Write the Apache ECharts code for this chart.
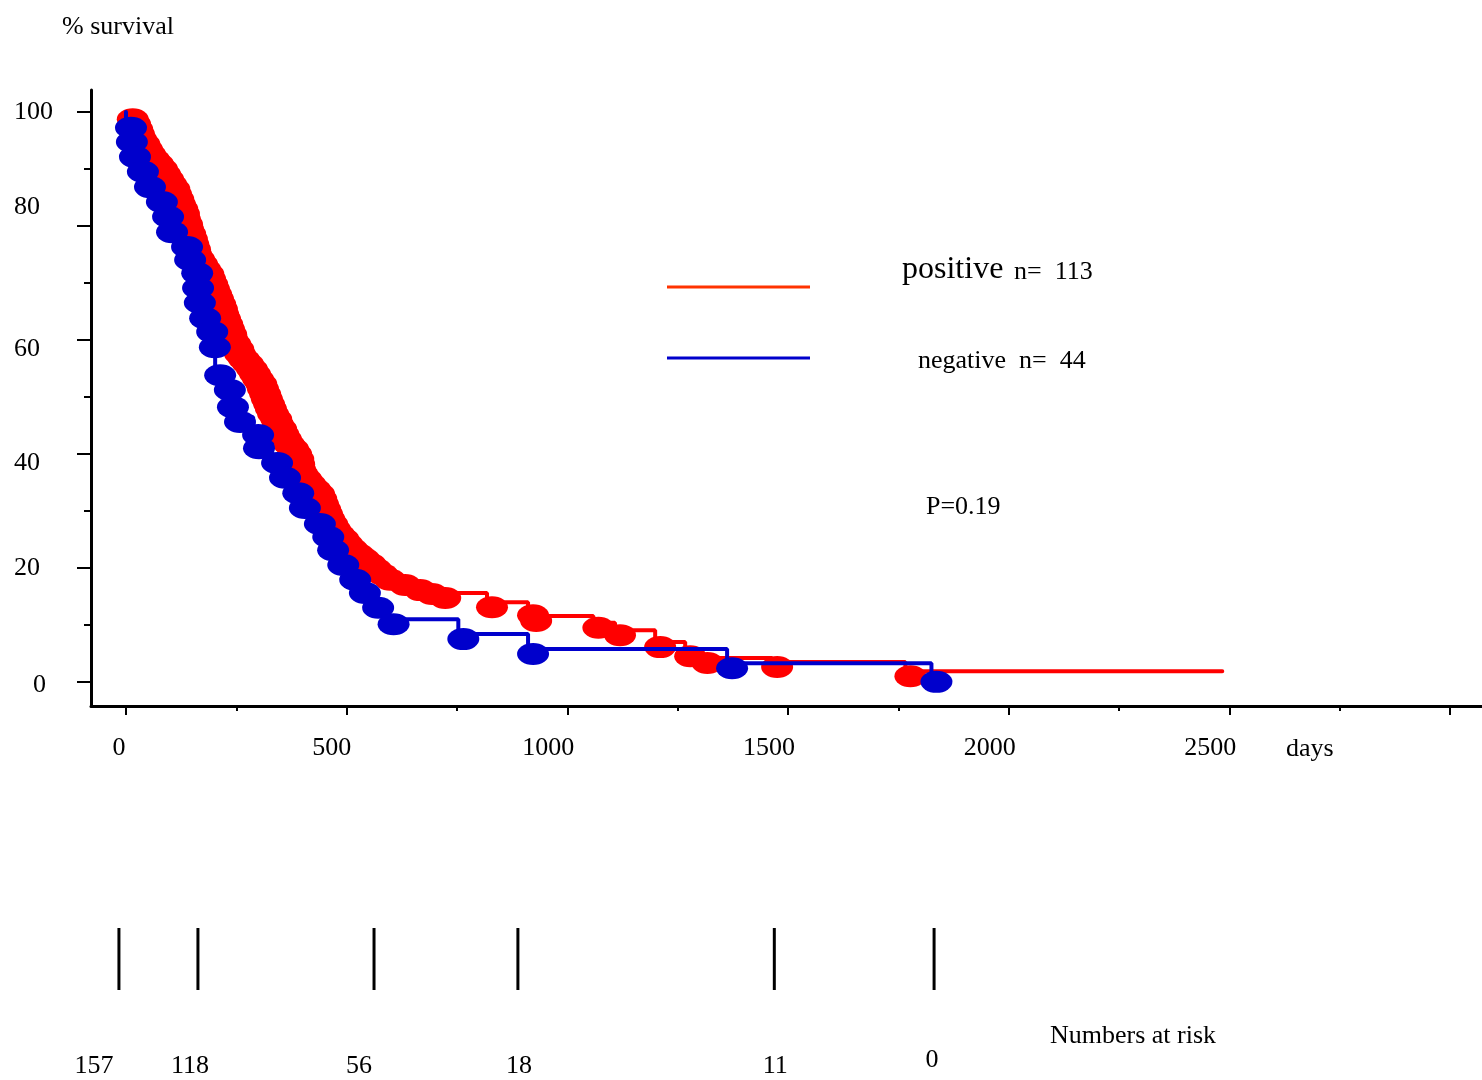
<!DOCTYPE html>
<html>
<head>
<meta charset="utf-8">
<title>Survival by group</title>
<script src="https://cdn.jsdelivr.net/npm/echarts@6/dist/echarts.min.js"></script>
<style>
  html, body { margin: 0; padding: 0; background: #fff; }
  #chart { width: 1482px; height: 1080px; }
</style>
</head>
<body>
<div id="chart"></div>
<script>
// Kaplan–Meier survival (%) against days, two groups, with numbers at risk.

const groupNames = ['positive', 'negative'];
const groupSizes = [113, 44];
const pValueText = 'P=0.19';

// positive group: first entry is the start of follow-up, last is end of follow-up
const positiveDays = [
  0,
  4, 9, 14, 18, 23, 30, 36, 43, 52, 61,
  70, 77, 84, 91, 98, 102, 107, 111, 116, 120,
  122, 127, 129, 134, 138, 141, 145, 147, 154, 161,
  168, 175, 179, 184, 188, 193, 197, 202, 206, 209,
  213, 218, 222, 227, 229, 236, 243, 247, 256, 265,
  274, 281, 288, 295, 299, 304, 308, 313, 317, 322,
  329, 333, 340, 345, 351, 358, 367, 374, 379, 381,
  383, 388, 397, 406, 417, 426, 431, 435, 440, 444,
  449, 456, 462, 471, 481, 490, 501, 515, 528, 542,
  555, 569, 587, 621, 655, 682, 712,
  818, 911, 918, 1059, 1108, 1199, 1267, 1306, 1464, 1766,
  2484
];
const positiveSurvival = [
  100,
  99.6, 98.8, 97.9, 97.0, 96.1, 95.3, 94.4, 93.5, 92.6, 91.8,
  90.9, 90.0, 89.1, 88.2, 87.4, 86.5, 85.6, 84.7, 83.9, 83.0,
  82.1, 81.2, 80.4, 79.5, 78.6, 77.7, 76.8, 76.0, 75.1, 74.2,
  73.3, 72.5, 71.6, 70.7, 69.8, 68.9, 68.1, 67.2, 66.3, 65.4,
  64.6, 63.7, 62.8, 61.9, 61.1, 60.2, 59.3, 58.4, 57.5, 56.7,
  55.8, 54.9, 54.0, 53.2, 52.3, 51.4, 50.5, 49.6, 48.8, 47.9,
  47.0, 46.1, 45.3, 44.4, 43.5, 42.6, 41.8, 40.9, 40.0, 39.1,
  38.2, 37.4, 36.5, 35.6, 34.7, 33.9, 33.0, 32.1, 31.2, 30.4,
  29.5, 28.6, 27.7, 26.8, 26.0, 25.1, 24.2, 23.3, 22.5, 21.6,
  20.7, 19.8, 18.8, 17.9, 17.0, 16.3, 15.6,
  14.0, 12.6, 11.6, 10.4, 9.1, 7.0, 5.4, 4.2, 3.5, 1.9,
  1.9
];

// negative group: first entry is the start of follow-up
const negativeDays = [
  0,
  0, 2, 9, 27, 43, 70, 84, 93, 127, 134,
  150, 152, 156, 168, 184, 190, 202, 224, 231, 247,
  288, 290, 331, 349, 379, 394, 428, 447, 458, 481,
  508, 530, 560, 595, 753, 911, 1362, 1825
];
const negativeSurvival = [
  100,
  98.1, 95.6, 93.0, 90.4, 87.7, 85.1, 82.5, 79.8, 77.2, 74.9,
  72.6, 70.0, 67.4, 64.7, 62.3, 59.6, 54.7, 52.1, 49.1, 46.5,
  44.2, 41.9, 39.3, 36.7, 34.0, 31.4, 28.6, 26.3, 24.0, 21.4,
  18.8, 16.5, 13.9, 11.0, 8.4, 5.8, 3.3, 0.9
];

const dayTicks = [0, 500, 1000, 1500, 2000, 2500, 3000];
const dayLabelValues = [0, 500, 1000, 1500, 2000, 2500];
const dayMinorTicks = [250, 750, 1250, 1750, 2250, 2750];
const survivalTicks = [0, 20, 40, 60, 80, 100];
const survivalMinorTicks = [10, 30, 50, 70, 90];

const riskDays = [-16, 163, 562, 888, 1469, 1831];
const riskCounts = [157, 118, 56, 18, 11, 0];

// ---- styling ----
const FONT = 'Liberation Serif';
const RED = '#ff0000';
const BLUE = '#0000cc';
const X_RANGE = [-79.3, 3072.5];
const Y_RANGE = [-4.21, 103.86];
const OVAL = 'path://M0,50A50,50,0,1,1,100,50A50,50,0,1,1,0,50Z';

// small nudges of the printed tick labels and risk numbers
const xLabelToken = { 0: 'z', 500: 'h' };
const yLabelToken = { 100: 'a', 80: 'up', 60: 'dn', 40: 'dn', 20: 'a', 0: 'zr' };
const riskLabelNudge = [[-25, 0], [-8, 0], [-15, 0], [1, 0], [1, 0], [-2, -6]];

function kmData(days, surv, openEnd) {
  return days.map((d, i) => {
    const item = { value: [d, surv[i]] };
    if (i === 0 || (openEnd && i === days.length - 1)) item.symbol = 'none';
    return item;
  });
}

function kmSeries(days, surv, color, openEnd, z) {
  return {
    type: 'line',
    xAxisIndex: 0,
    yAxisIndex: 0,
    step: 'end',
    data: kmData(days, surv, openEnd),
    symbol: OVAL,
    symbolSize: [32, 22],
    symbolOffset: [5, 5],
    showAllSymbol: true,
    lineStyle: { color: color, width: 4, cap: 'round' },
    itemStyle: { color: color, opacity: 1 },
    clip: false,
    silent: true,
    z: z
  };
}

const txt = (size) => ({ fontFamily: FONT, fontSize: size, color: '#000' });

const option = {
  backgroundColor: '#ffffff',
  animation: false,
  grid: [
    { left: 91, right: 0, top: 90, bottom: 374, outerBoundsMode: 'none' },
    { left: 91, right: 0, top: 928, height: 62, outerBoundsMode: 'none' }
  ],
  xAxis: [
    {
      type: 'value', gridIndex: 0, min: X_RANGE[0], max: X_RANGE[1],
      axisLine: { show: true, onZero: false, lineStyle: { color: '#000', width: 3 } },
      axisTick: { show: true, customValues: dayTicks, length: 9, lineStyle: { color: '#000', width: 2 } },
      axisLabel: {
        customValues: dayLabelValues,
        margin: 29,
        formatter: (v) => '{' + (xLabelToken[v] || 'n') + '|' + v + '}',
        rich: {
          z: Object.assign(txt(26), { padding: [0, 14, 0, 0] }),
          h: Object.assign(txt(26), { padding: [0, 30, 0, 0] }),
          n: Object.assign(txt(26), { padding: [0, 38, 0, 0] })
        }
      },
      splitLine: { show: false }
    },
    {
      type: 'value', gridIndex: 0, min: X_RANGE[0], max: X_RANGE[1], position: 'bottom',
      axisLine: { show: false, onZero: false },
      axisTick: { show: true, customValues: dayMinorTicks, length: 5, lineStyle: { color: '#000', width: 2 } },
      axisLabel: { show: false },
      splitLine: { show: false }
    },
    {
      type: 'value', gridIndex: 1, min: X_RANGE[0], max: X_RANGE[1], show: false
    }
  ],
  yAxis: [
    {
      type: 'value', gridIndex: 0, min: Y_RANGE[0], max: Y_RANGE[1],
      axisLine: { show: true, onZero: false, lineStyle: { color: '#000', width: 3 } },
      axisTick: { show: true, customValues: survivalTicks, length: 14, lineStyle: { color: '#000', width: 2 } },
      axisLabel: {
        customValues: survivalTicks,
        margin: 77,
        align: 'left',
        formatter: (v) => '{' + yLabelToken[v] + '|' + v + '}',
        rich: {
          a: txt(26),
          up: Object.assign(txt(26), { padding: [0, 0, 38, 0] }),
          dn: Object.assign(txt(26), { padding: [19, 0, 0, 0] }),
          zr: Object.assign(txt(26), { padding: [6, 0, 0, 19] })
        }
      },
      splitLine: { show: false }
    },
    {
      type: 'value', gridIndex: 0, min: Y_RANGE[0], max: Y_RANGE[1], position: 'left',
      axisLine: { show: false, onZero: false },
      axisTick: { show: true, customValues: survivalMinorTicks, length: 7, lineStyle: { color: '#000', width: 2 } },
      axisLabel: { show: false },
      splitLine: { show: false }
    },
    {
      type: 'value', gridIndex: 1, min: 0, max: 1, show: false
    }
  ],
  graphic: [
    { type: 'text', x: 62, y: 27, style: { text: '% survival', font: '26px "' + FONT + '"', fill: '#000', verticalAlign: 'middle' } },
    { type: 'text', x: 1286, y: 749, style: { text: 'days', font: '26px "' + FONT + '"', fill: '#000', verticalAlign: 'middle' } },
    { type: 'line', shape: { x1: 667, y1: 287, x2: 810, y2: 287 }, style: { stroke: '#ff3300', lineWidth: 3 } },
    { type: 'line', shape: { x1: 667, y1: 358, x2: 810, y2: 358 }, style: { stroke: BLUE, lineWidth: 3 } },
    { type: 'text', x: 902, y: 270, style: { text: groupNames[0], font: '32px "' + FONT + '"', fill: '#000', verticalAlign: 'middle' } },
    { type: 'text', x: 1014, y: 272, style: { text: 'n=  ' + groupSizes[0], font: '26px "' + FONT + '"', fill: '#000', verticalAlign: 'middle' } },
    { type: 'text', x: 918, y: 361, style: { text: groupNames[1] + '  n=  ' + groupSizes[1], font: '26px "' + FONT + '"', fill: '#000', verticalAlign: 'middle' } },
    { type: 'text', x: 926, y: 507, style: { text: pValueText, font: '26px "' + FONT + '"', fill: '#000', verticalAlign: 'middle' } },
    { type: 'text', x: 1050, y: 1036, style: { text: 'Numbers at risk', font: '26px "' + FONT + '"', fill: '#000', verticalAlign: 'middle' } }
  ],
  series: [
    kmSeries(positiveDays, positiveSurvival, RED, true, 2),
    kmSeries(negativeDays, negativeSurvival, BLUE, false, 3),
    {
      type: 'scatter',
      xAxisIndex: 2,
      yAxisIndex: 2,
      symbol: 'rect',
      symbolSize: [3, 62],
      itemStyle: { color: '#000', opacity: 1 },
      data: riskDays.map((d, i) => ({
        value: [d, 0.5],
        label: { offset: riskLabelNudge[i] }
      })),
      label: Object.assign({
        show: true,
        position: 'bottom',
        distance: 63,
        opacity: 1,
        formatter: (p) => String(riskCounts[p.dataIndex])
      }, txt(26)),
      silent: true,
      z: 2
    }
  ]
};

const chart = echarts.init(document.getElementById('chart'), null, { renderer: 'canvas' });
chart.setOption(option);
</script>
</body>
</html>
